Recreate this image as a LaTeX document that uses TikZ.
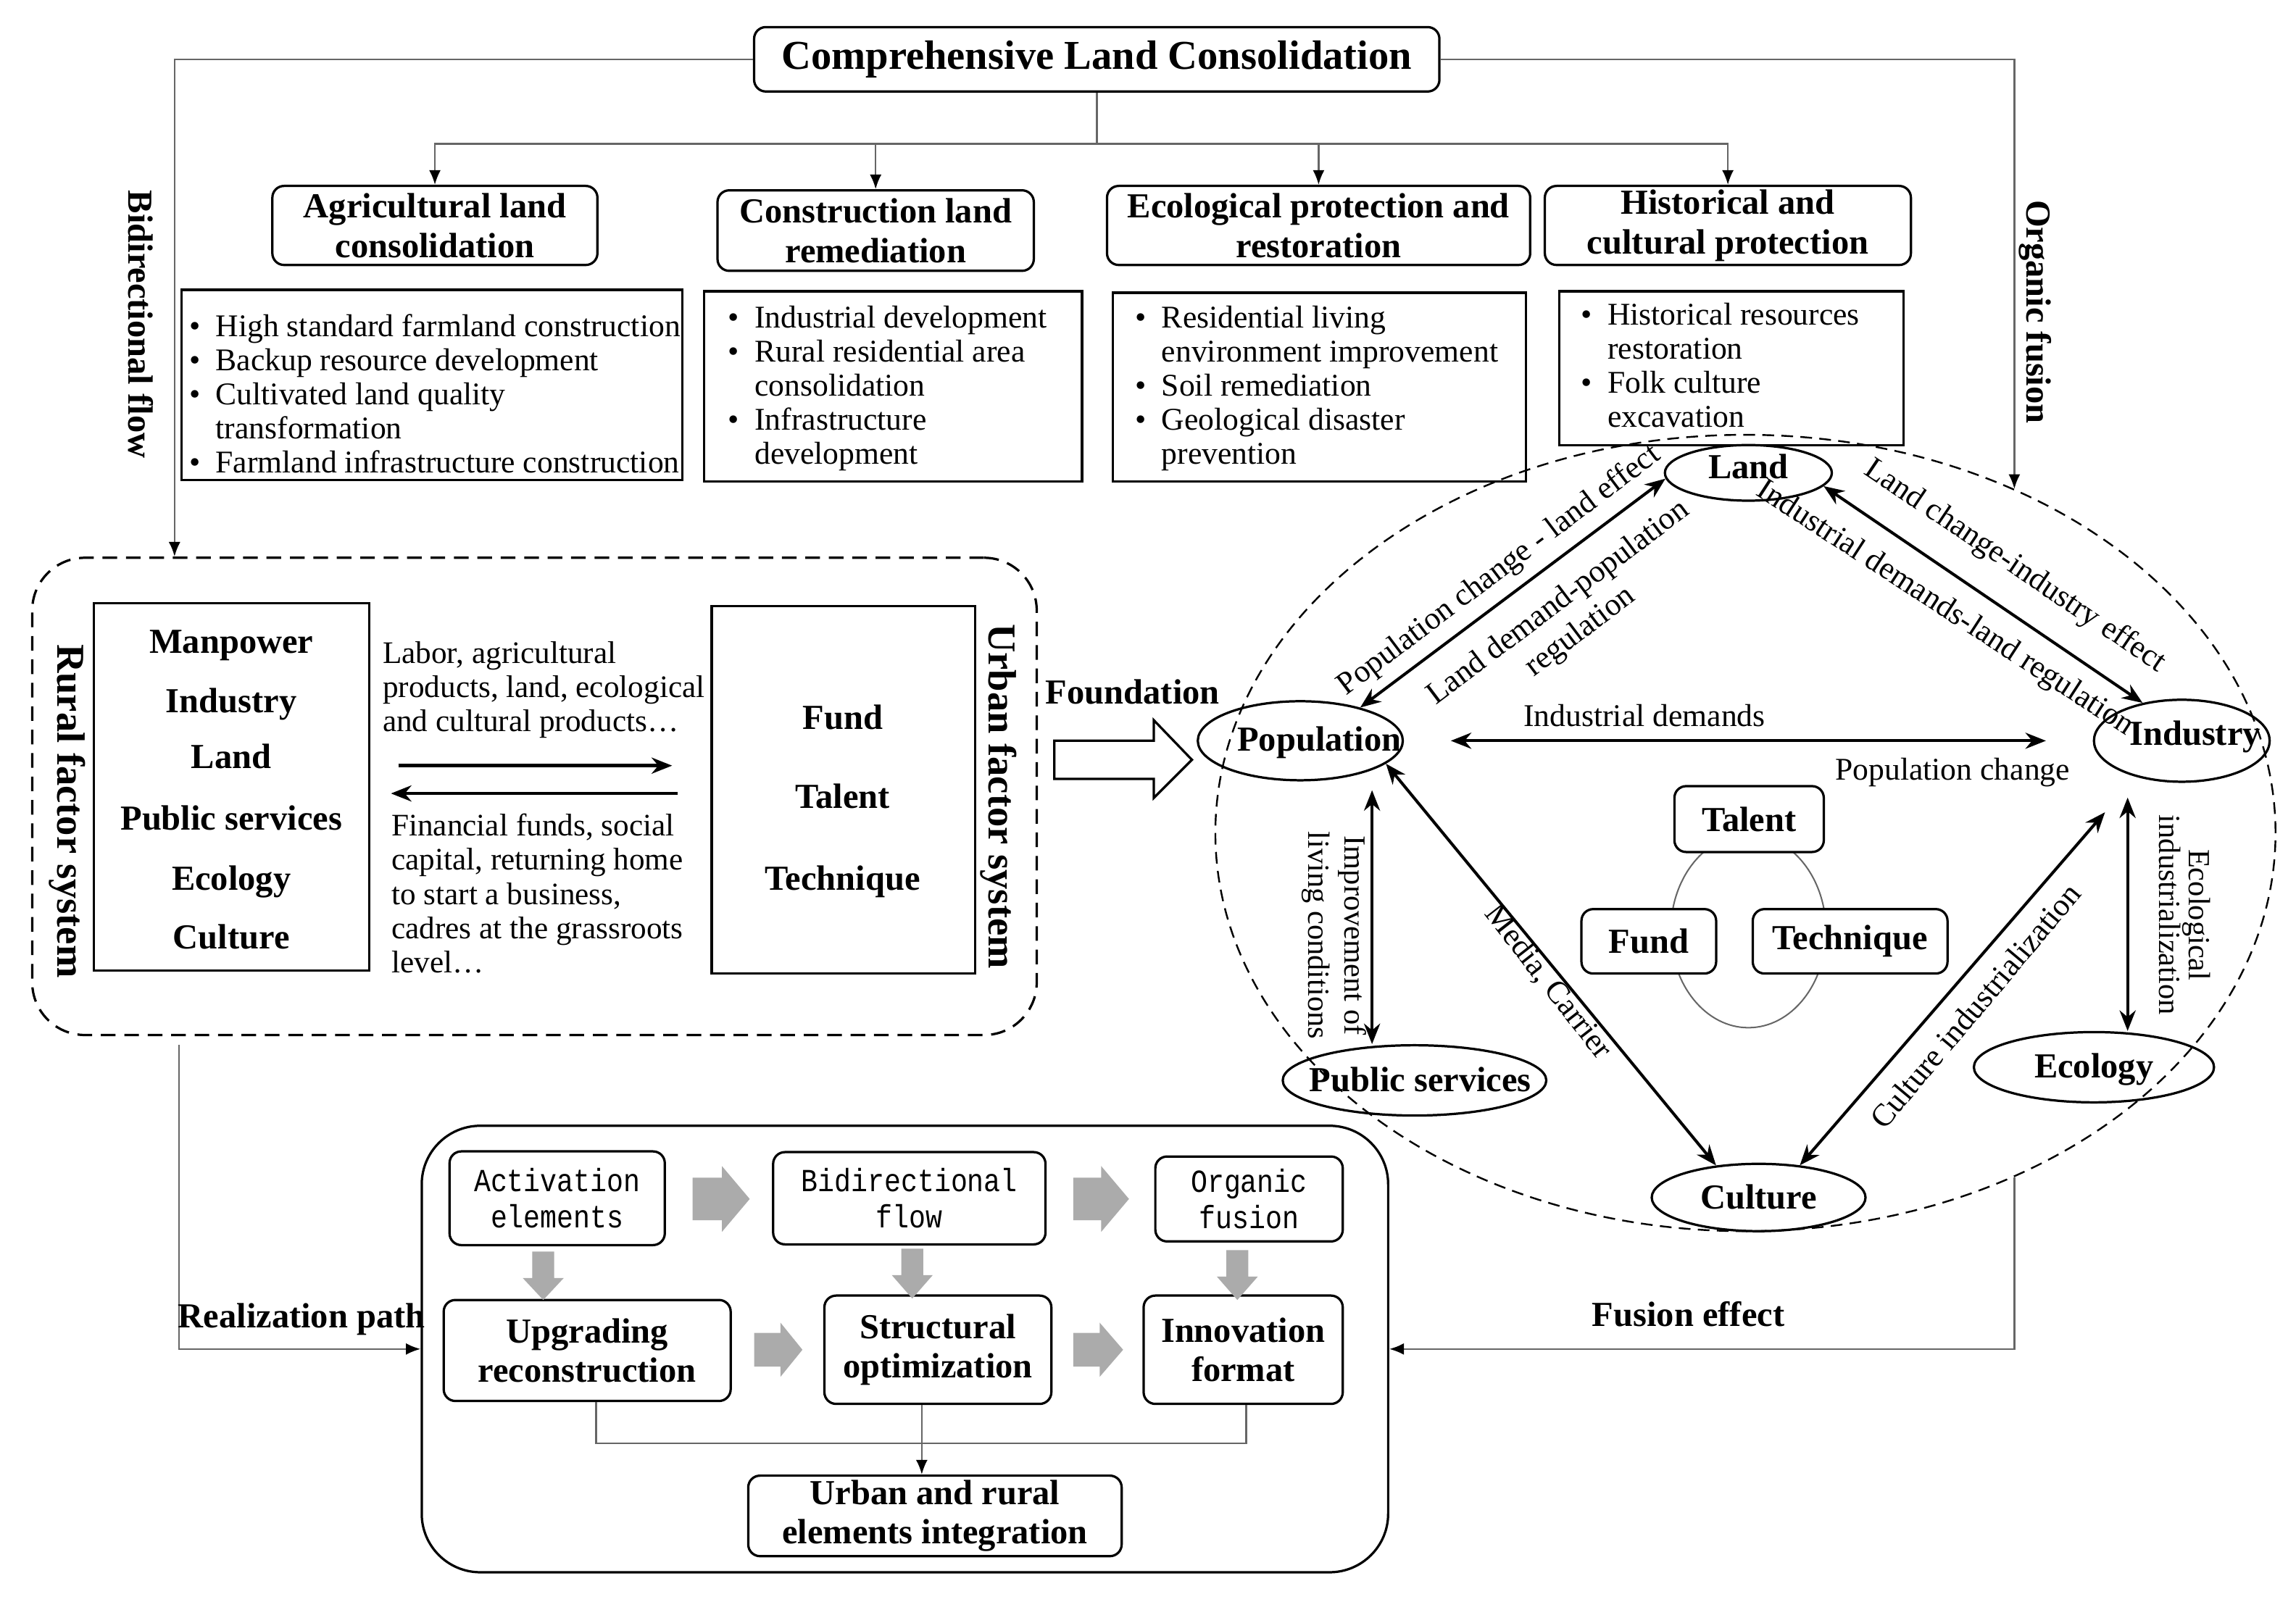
\documentclass[tikz,border=0pt]{standalone}
\usepackage{fontspec}
\setmainfont{Liberation Serif}
\newfontfamily\monof[FakeStretch=0.86]{Liberation Mono}
\usetikzlibrary{arrows.meta,calc,shapes.geometric}
\newcommand{\setfs}[2]{\fontsize{#1}{#2}\selectfont}
\newcommand{\blist}[1]{\begin{tabular}[t]{@{}l@{\hspace{5.2pt}}l@{}}#1\end{tabular}}
\newcommand{\garH}[6]{\fill[garr] (#1,#4-#5) -- (#2,#4-#5) -- (#2,#4-#6) -- (#3,#4) -- (#2,#4+#6) -- (#2,#4+#5) -- (#1,#4+#5) -- cycle;}
\newcommand{\garV}[6]{\fill[garr] (#4-#5,#1) -- (#4-#5,#2) -- (#4-#6,#2) -- (#4,#3) -- (#4+#6,#2) -- (#4+#5,#2) -- (#4+#5,#1) -- cycle;}
\tikzset{
 rbox/.style={draw, rounded corners=4pt, line width=0.8pt, inner sep=0pt, align=center},
 sbox/.style={draw, line width=0.8pt, inner sep=0pt},
 ell/.style={draw, ellipse, line width=0.8pt, inner sep=0pt},
 thinc/.style={line width=0.6pt, draw=black!60},
 tipa/.style={-{Latex[length=5pt,width=4pt,color=black]}},
 dbl/.style={line width=1pt, {Stealth[length=7pt,width=5.5pt]}-{Stealth[length=7pt,width=5.5pt]}},
 onew/.style={line width=1.1pt, -{Stealth[length=7pt,width=5.5pt]}},
 garr/.style={fill=black!33},
 lbl/.style={inner sep=0pt, align=center, font=\setfs{10.8}{12.4}},
 bld/.style={inner sep=0pt, font=\setfs{12}{13.5}\bfseries},
 lst/.style={inner sep=0pt, anchor=base west, font=\setfs{10.8}{11.6}},
 catf/.style={font=\setfs{12}{13.5}\bfseries},
 monobox/.style={rbox, font=\monof\setfs{11}{12.5}},
}
\begin{document}
\begin{tikzpicture}[x=0.5pt,y=-0.5pt]
\useasboundingbox (0,0) rectangle (1568,1094);

% ---------- top ----------
\node[rbox, minimum width=234pt, minimum height=22pt, font=\setfs{14}{16}\bfseries] (title) at (749,40.5) {Comprehensive Land Consolidation};

\node[rbox, catf, minimum width=111pt, minimum height=27pt] (cat1) at (297,154) {Agricultural land\\consolidation};
\node[rbox, catf, minimum width=108pt, minimum height=27.5pt] (cat2) at (598,157.5) {Construction land\\remediation};
\node[rbox, catf, minimum width=144.5pt, minimum height=27pt] (cat3) at (900.5,154) {Ecological protection and\\restoration};
\node[rbox, catf, minimum width=125pt, minimum height=27pt] (cat4) at (1180,154) {Historical and\\cultural protection};

\coordinate (hub) at ($(title.south)+(0,35)$);
\draw[thinc] (title.south) -- (hub);
\draw[thinc, tipa] (hub) -| (cat1.north);
\draw[thinc, tipa] (hub) -| (cat2.north);
\draw[thinc, tipa] (hub) -| (cat3.north);
\draw[thinc, tipa] (hub) -| (cat4.north);

\node[sbox, minimum width=171pt, minimum height=65pt] (lst1) at (295,263) {};
\node[lst] (lst1t) at (129,230) {\blist{\textbullet & High standard farmland construction\\ \textbullet & Backup resource development\\ \textbullet & Cultivated land quality\\ & transformation\\ \textbullet & Farmland infrastructure construction}};
\node[sbox, minimum width=129pt, minimum height=65pt] (lst2) at (610,264) {};
\node[lst] (lst2t) at (497,224) {\blist{\textbullet & Industrial development\\ \textbullet & Rural residential area\\ & consolidation\\ \textbullet & Infrastructure\\ & development}};
\node[sbox, minimum width=141pt, minimum height=64.5pt] (lst3) at (901,264.5) {};
\node[lst] (lst3t) at (775,224) {\blist{\textbullet & Residential living\\ & environment improvement\\ \textbullet & Soil remediation\\ \textbullet & Geological disaster\\ & prevention}};
\node[sbox, minimum width=117.5pt, minimum height=52.5pt] (lst4) at (1182.5,251.5) {};
\node[lst] (lst4t) at (1079.5,222) {\blist{\textbullet & Historical resources\\ & restoration\\ \textbullet & Folk culture\\ & excavation}};

% ---------- rural / urban ----------
\node[draw, dash pattern=on 5pt off 3pt, line width=0.8pt, rounded corners=18pt, minimum width=343pt, minimum height=163pt] (dbox) at (365,544) {};
\node[sbox, minimum width=94pt, minimum height=125.5pt] (rural) at (158,537.5) {};
\node[bld, anchor=base] (r1) at (158,446) {Manpower};
\node[bld, anchor=base] (r2) at (158,487) {Industry};
\node[bld, anchor=base] (r3) at (158,525) {Land};
\node[bld, anchor=base] (r4) at (158,567) {Public services};
\node[bld, anchor=base] (r5) at (158,608) {Ecology};
\node[bld, anchor=base] (r6) at (158,648) {Culture};
\node[sbox, minimum width=90pt, minimum height=125.5pt] (urban) at (576,539.5) {};
\node[bld, anchor=base] (u1) at (575.5,498) {Fund};
\node[bld, anchor=base] (u2) at (575.5,552) {Talent};
\node[bld, anchor=base] (u3) at (575.5,608) {Technique};
\node[bld, rotate=-90, font=\setfs{13.5}{15}\bfseries] (rurlab) at (45.7,554) {Rural factor system};
\node[bld, rotate=-90, font=\setfs{13.5}{15}\bfseries] (urblab) at (682,544) {Urban factor system};

\node[inner sep=0pt, anchor=base west, font=\setfs{10.7}{11.6}] (labor) at (261,453) {\begin{tabular}[t]{@{}l@{}}Labor, agricultural\\products, land, ecological\\and cultural products…\end{tabular}};
\node[inner sep=0pt, anchor=base west, font=\setfs{10.7}{11.7}] (finan) at (267,571) {\begin{tabular}[t]{@{}l@{}}Financial funds, social\\capital, returning home\\to start a business,\\cadres at the grassroots\\level…\end{tabular}};
\coordinate (fa1s) at (272,523);
\coordinate (fa1e) at (459,523);
\coordinate (fa2s) at (463,542);
\coordinate (fa2e) at (267,542);
\draw[onew] (fa1s) -- (fa1e);
\draw[onew] (fa2s) -- (fa2e);

% side labels and long connectors
\node[bld, rotate=-90] (bflab) at (96,221.5) {Bidirectional flow};
\node[bld, rotate=-90] (oflab) at (1390,213) {Organic fusion};
\draw[thinc, tipa] (title.west) -| ($(dbox.north west)+(98,0)$);

% Foundation arrow
\node[bld, anchor=base] (fndlab) at (773.5,481) {Foundation};
\draw[line width=0.8pt] (720,506) -- (788,506) -- (788,492) -- (814,519) -- (788,545) -- (788,532) -- (720,532) -- cycle;

% ---------- right ellipse ----------
\node[draw, ellipse, inner sep=0pt, line width=0.6pt, dash pattern=on 4pt off 2.5pt, minimum width=362pt, minimum height=272pt] (bigE) at (1192,569) {};
\draw[thinc, tipa] (title.east) -| (bigE.52.7);

\node[ell, minimum width=57pt, minimum height=19pt] (land) at (1194,323) {};
\node[ell, minimum width=70pt, minimum height=27pt] (pop) at (888,506) {};
\node[ell, minimum width=60pt, minimum height=28pt] (ind) at (1490,506) {};
\node[ell, minimum width=90pt, minimum height=24pt] (pub) at (966,738) {};
\node[ell, minimum width=82pt, minimum height=24pt] (eco) at (1430,729) {};
\node[ell, minimum width=73pt, minimum height=23pt] (cul) at (1201,818) {};
\node[bld, anchor=base] (landT) at (1194,327) {Land};
\node[bld, anchor=base] (popT) at (901,513) {Population};
\node[bld, anchor=base] (indT) at (1499,509) {Industry};
\node[bld, anchor=base] (pubT) at (970,745.5) {Public services};
\node[bld, anchor=base] (ecoT) at (1430,736) {Ecology};
\node[bld, anchor=base] (culT) at (1201,826) {Culture};

\node[draw=black!60, line width=0.5pt, ellipse, inner sep=0pt, minimum width=53pt, minimum height=66pt] (cc) at (1194,636) {};
\node[rbox, fill=white, font=\setfs{12}{13.5}\bfseries, minimum width=51pt, minimum height=22.5pt] (talent) at (1194.5,559.5) {Talent};
\node[rbox, fill=white, font=\setfs{12}{13.5}\bfseries, minimum width=46pt, minimum height=22pt] (fund) at (1126,643) {Fund};
\node[rbox, fill=white, font=\setfs{12}{13.5}\bfseries, minimum width=66.5pt, minimum height=22pt] (tech) at (1263.5,643) {Technique};

\draw[dbl] (pop.29) -- (land.184);
\draw[dbl] (land.-10) -- (ind.136);
\draw[dbl, shorten <=16pt, shorten >=16pt] (pop.east) -- (ind.west);
\draw[dbl] ($(pop.south)+(49,6)$) -- ($(pub.north)+(-29,0)$);
\draw[dbl] (pop.-15) -- (cul.143);
\draw[dbl, shorten <=16pt] (ind.218) -- (cul.38);
\draw[dbl] ($(ind.south)+(-37,10)$) -- ($(eco.north)+(23,0)$);

\node[lbl, rotate=37] (l1) at (1024,390) {Population change - land effect};
\node[lbl, rotate=37] (l2) at (1072,422) {Land demand-population\\regulation};
\node[lbl, rotate=-34] (l3) at (1376,387) {Land change-industry effect};
\node[lbl, rotate=-33] (l4) at (1328,416) {Industrial demands-land regulation};
\node[lbl, anchor=base] (l5) at (1123,496) {Industrial demands};
\node[lbl, anchor=base] (l6) at (1333.5,533) {Population change};
\node[lbl, rotate=-90, font=\setfs{10.5}{12.5}] (l7) at (911,639) {Improvement of\\living conditions};
\node[lbl, rotate=-52] (l8) at (1057,671) {Media, Carrier};
\node[lbl, rotate=50] (l9) at (1349,687) {Culture industrialization};
\node[lbl, rotate=-90, font=\setfs{10.5}{10}] (l10) at (1492,625) {Ecological\\industrialization};

% ---------- bottom ----------
\node[draw, line width=0.8pt, rounded corners=20pt, minimum width=330pt, minimum height=152.5pt] (bbox) at (618,921.5) {};
\node[monobox, minimum width=73.5pt, minimum height=32pt] (act) at (380.5,818.5) {Activation\\elements};
\node[monobox, minimum width=93pt, minimum height=31.5pt] (bid) at (621,818.5) {Bidirectional\\flow};
\node[monobox, minimum width=64pt, minimum height=29pt] (org) at (853,819) {Organic\\fusion};
\node[rbox, catf, minimum width=98pt, minimum height=34.5pt] (upg) at (401,922.5) {Upgrading\\reconstruction};
\node[rbox, catf, minimum width=77.5pt, minimum height=37pt] (str) at (640.5,922) {Structural\\optimization};
\node[rbox, catf, minimum width=68pt, minimum height=37pt] (inn) at (849,922) {Innovation\\format};
\node[rbox, catf, minimum width=127.5pt, minimum height=27.5pt] (urb) at (638.5,1035.5) {Urban and rural\\elements integration};

\garH{473}{493}{512}{819}{14.5}{22.5}
\garH{733}{752}{771}{819}{14.5}{22.5}
\garH{515}{533}{548}{922}{11.5}{18.5}
\garH{733}{751}{767}{922}{11.5}{18.5}
\garV{855}{873}{888}{371}{7.5}{14}
\garV{853}{871}{887}{623}{7.5}{14}
\garV{854}{872}{888}{845}{7.5}{14}

\draw[thinc] ($(upg.south)+(6,0)$) -- ++(0,28) -| ($(inn.south)+(2,0)$);
\coordinate (sx) at ($(str.south)+(-11,0)$);
\draw[thinc, tipa] (sx) -- (sx |- urb.north);

\draw[thinc, tipa] ($(dbox.south west)+(101,6)$) |- (bbox.west);
\node[bld, anchor=base] (realT) at (206,907) {Realization path};
\draw[thinc, tipa] (bigE.-52.7) |- (bbox.east);
\node[bld, anchor=base] (fusT) at (1153,906) {Fusion effect};
\end{tikzpicture}
\end{document}
